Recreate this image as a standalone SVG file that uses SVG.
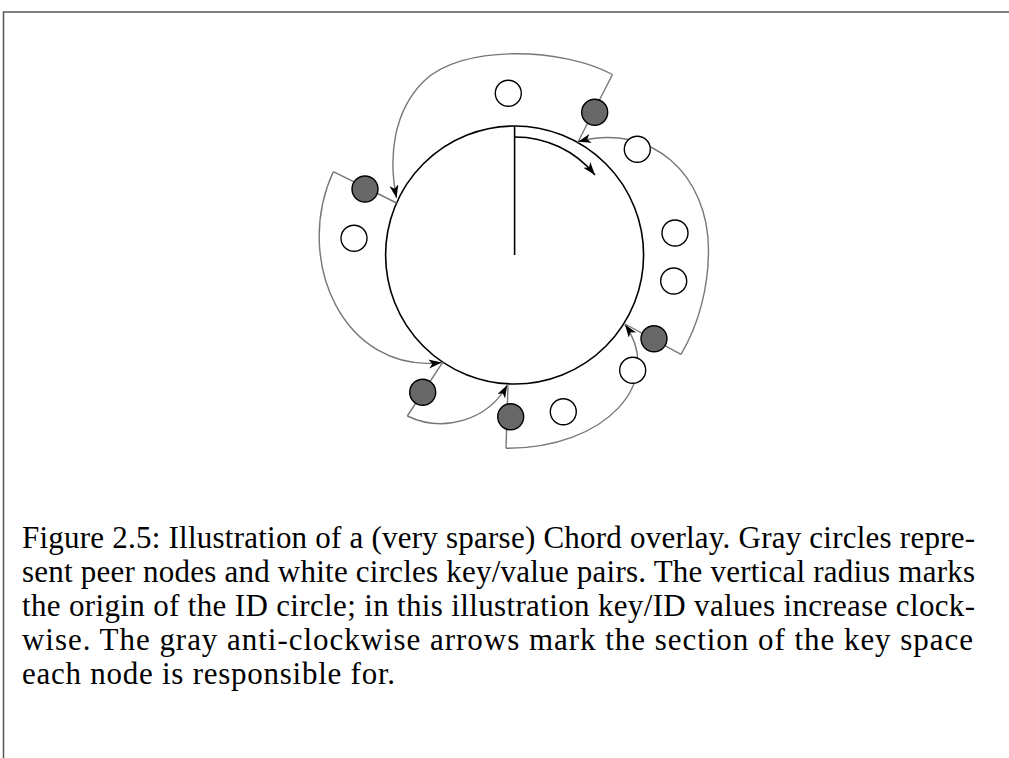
<svg xmlns="http://www.w3.org/2000/svg" width="1009" height="758" viewBox="0 0 1009 758">
  <style>
    .frame { fill: none; stroke: #555; stroke-width: 1.5; }
    .ring { fill: none; stroke: #000; stroke-width: 1.6; }
    .radius { fill: none; stroke: #000; stroke-width: 1.6; }
    .span { fill: none; stroke: #777; stroke-width: 1.4; }
    .peer { fill: #686868; stroke: #000; stroke-width: 1.4; }
    .key { fill: #fff; stroke: #000; stroke-width: 1.4; }
    .caption { font-family: "Liberation Serif", "DejaVu Serif", serif; font-size: 31px; fill: #000; }
  </style>
  <defs>
    <marker id="head" markerUnits="userSpaceOnUse" markerWidth="15" markerHeight="11" refX="13" refY="4.5" orient="auto">
      <path d="M0,0 L13,4.5 L0,9 L3.5,4.5 Z" fill="#000"/>
    </marker>
  </defs>

  <!-- page frame -->
  <path class="frame" d="M3.5,758 L3.5,12 L1009,12"/>

  <!-- ID ring with its origin radius -->
  <g id="ring">
    <circle class="ring" cx="514.6" cy="255" r="129"/>
    <line class="radius" x1="514.6" y1="126" x2="514.6" y2="255"/>
    <path class="radius" d="M514.6,137 A102.7,102.7 0 0 1 595,175" marker-end="url(#head)"/>
  </g>

  <!-- responsibility sections: radial edge plus anti-clockwise arrow -->
  <g id="connectors">
    <line class="span" x1="577.7" y1="142.5" x2="612.5" y2="74.5"/>
    <path class="span" d="M612.5,74.5 C564.2,48.2 461.5,43 423,82 C393.6,111.8 388.1,156.8 396.5,198" marker-end="url(#head)"/>

    <line class="span" x1="396.6" y1="203" x2="333.3" y2="171.7"/>
    <path class="span" d="M333.3,171.7 C292.3,260.7 344.4,374.2 441.7,362.5" marker-end="url(#head)"/>

    <line class="span" x1="442.8" y1="362.2" x2="407.3" y2="416"/>
    <path class="span" d="M407.3,416 C443.3,433.2 488.1,420.2 507.3,385" marker-end="url(#head)"/>

    <line class="span" x1="508" y1="385" x2="506" y2="448.3"/>
    <path class="span" d="M506,448.3 C606,448.3 665.6,382.4 625,324.5" marker-end="url(#head)"/>

    <line class="span" x1="625" y1="324" x2="681" y2="354.3"/>
    <path class="span" d="M681,354.3 C699.4,323.4 708.5,286 708.5,250 C708.5,175 651.5,122 578,141.7" marker-end="url(#head)"/>
  </g>

  <!-- peer nodes -->
  <g id="peer-1"><circle class="peer" cx="594.7" cy="112.3" r="13"/></g>
  <g id="peer-2"><circle class="peer" cx="365" cy="189" r="13"/></g>
  <g id="peer-3"><circle class="peer" cx="654" cy="338.7" r="13"/></g>
  <g id="peer-4"><circle class="peer" cx="422.7" cy="392.3" r="13"/></g>
  <g id="peer-5"><circle class="peer" cx="510.7" cy="416.7" r="13"/></g>

  <!-- key/value pairs -->
  <g id="key-1"><circle class="key" cx="508.3" cy="93.3" r="13"/></g>
  <g id="key-2"><circle class="key" cx="637.3" cy="149.3" r="13"/></g>
  <g id="key-3"><circle class="key" cx="675" cy="233" r="13"/></g>
  <g id="key-4"><circle class="key" cx="673.7" cy="281" r="13"/></g>
  <g id="key-5"><circle class="key" cx="632.7" cy="370.3" r="13"/></g>
  <g id="key-6"><circle class="key" cx="563.3" cy="411.7" r="13"/></g>
  <g id="key-7"><circle class="key" cx="354" cy="238.3" r="13"/></g>

  <!-- caption (sentence breaks keep their double space) -->
  <g id="caption" class="caption" xml:space="preserve">
    <text x="22" y="548" textLength="953" lengthAdjust="spacing">Figure 2.5: Illustration of a (very sparse) Chord overlay.  Gray circles repre-</text>
    <text x="22" y="582" textLength="953" lengthAdjust="spacing">sent peer nodes and white circles key/value pairs.  The vertical radius marks</text>
    <text x="22" y="616" textLength="953" lengthAdjust="spacing">the origin of the ID circle; in this illustration key/ID values increase clock-</text>
    <text x="22" y="650" textLength="951" lengthAdjust="spacing">wise.  The gray anti-clockwise arrows mark the section of the key space</text>
    <text x="22" y="684" textLength="373" lengthAdjust="spacing">each node is responsible for.</text>
  </g>
</svg>
